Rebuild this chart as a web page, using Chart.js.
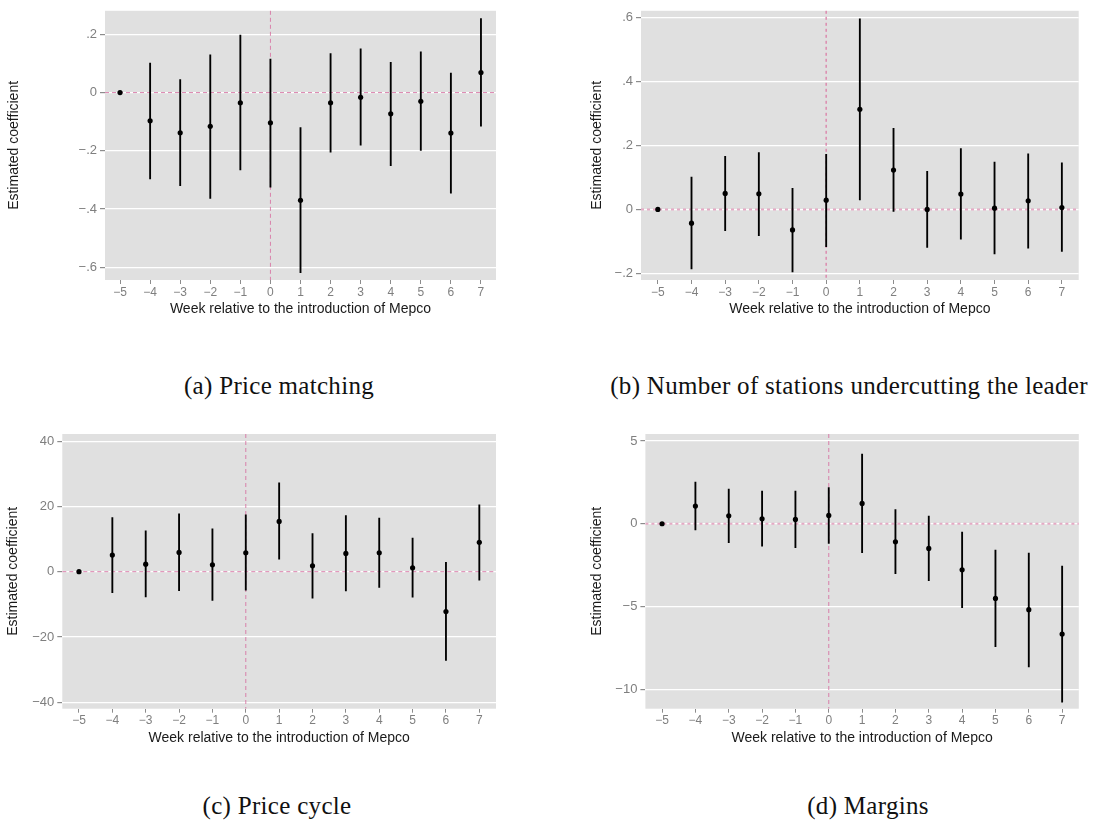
<!DOCTYPE html>
<html>
<head>
<meta charset="utf-8">
<script src="https://cdn.jsdelivr.net/npm/chart.js@4.4.1/dist/chart.umd.min.js"></script>
<style>
    html, body { margin: 0; padding: 0; background: #ffffff; }
    #page { position: relative; width: 1100px; height: 829px; overflow: hidden; }
    #page canvas { position: absolute; }
    .caption
    {
        position: absolute;
        font-family: "Liberation Serif", serif;
        font-size: 25px;
        line-height: 30px;
        letter-spacing: 0.3px;
        color: #111111;
        white-space: nowrap;
        transform: translateX(-50%);
    }
</style>
</head>
<body>
<div id="page">
    <canvas id="chartA" width="550" height="330" style="left:0px;top:0px"></canvas>
    <canvas id="chartB" width="550" height="330" style="left:550px;top:0px"></canvas>
    <canvas id="chartC" width="550" height="330" style="left:0px;top:420px"></canvas>
    <canvas id="chartD" width="550" height="330" style="left:550px;top:420px"></canvas>
    <div class="caption" style="left:279px;top:371px">(a) Price matching</div>
    <div class="caption" style="left:849px;top:371px">(b) Number of stations undercutting the leader</div>
    <div class="caption" style="left:277px;top:791px">(c) Price cycle</div>
    <div class="caption" style="left:868px;top:791px">(d) Margins</div>
</div>
<script>
// weeks relative to the introduction of Mepco
const weeks = ["−5", "−4", "−3", "−2", "−1", "0", "1", "2", "3", "4", "5", "6", "7"];

// (a) price matching
const coefA = [0, -0.097, -0.138, -0.116, -0.035, -0.104, -0.370, -0.035, -0.016, -0.073, -0.030, -0.139, 0.069];
const lowA  = [null, -0.297, -0.320, -0.364, -0.266, -0.325, -0.619, -0.205, -0.181, -0.251, -0.199, -0.346, -0.115];
const highA = [null, 0.101, 0.045, 0.130, 0.198, 0.115, -0.120, 0.134, 0.150, 0.104, 0.140, 0.067, 0.254];
const yTicksA  = [-0.6, -0.4, -0.2, 0, 0.2];
const yLabelsA = ["−.6", "−.4", "−.2", "0", ".2"];

// (b) number of stations undercutting the leader
const coefB = [0, -0.043, 0.050, 0.049, -0.064, 0.029, 0.313, 0.123, 0.000, 0.048, 0.004, 0.027, 0.006];
const lowB  = [null, -0.186, -0.066, -0.082, -0.195, -0.116, 0.030, -0.006, -0.119, -0.093, -0.139, -0.121, -0.131];
const highB = [null, 0.101, 0.166, 0.178, 0.066, 0.172, 0.596, 0.254, 0.119, 0.190, 0.148, 0.174, 0.146];
const yTicksB  = [-0.2, 0, 0.2, 0.4, 0.6];
const yLabelsB = ["−.2", "0", ".2", ".4", ".6"];

// (c) price cycle
const coefC = [0, 5.1, 2.3, 5.9, 2.1, 5.8, 15.4, 1.8, 5.6, 5.8, 1.2, -12.2, 9.0];
const lowC  = [null, -6.4, -7.7, -5.8, -8.8, -5.7, 3.8, -8.1, -5.9, -4.8, -7.8, -27.2, -2.6];
const highC = [null, 16.6, 12.5, 17.7, 13.1, 17.4, 27.2, 11.7, 17.2, 16.4, 10.3, 2.9, 20.5];
const yTicksC  = [-40, -20, 0, 20, 40];
const yLabelsC = ["−40", "−20", "0", "20", "40"];

// (d) margins
const coefD = [0, 1.07, 0.48, 0.30, 0.26, 0.50, 1.23, -1.09, -1.49, -2.78, -4.51, -5.19, -6.66];
const lowD  = [null, -0.38, -1.15, -1.35, -1.45, -1.19, -1.75, -3.02, -3.44, -5.07, -7.43, -8.64, -10.77];
const highD = [null, 2.52, 2.09, 1.97, 1.97, 2.19, 4.21, 0.85, 0.46, -0.50, -1.59, -1.77, -2.56];
const yTicksD  = [-10, -5, 0, 5];
const yLabelsD = ["−10", "−5", "0", "5"];

const xTitle = "Week relative to the introduction of Mepco";
const yTitle = "Estimated coefficient";

// grey panel background and the dashed reference lines at 0
const panelDecor =
{
    id: "panelDecor",
    beforeDraw: function(chart, args, opts)
    {
        const a = chart.chartArea;
        const ctx = chart.ctx;
        ctx.save();
        ctx.fillStyle = opts.background;
        ctx.fillRect(a.left, a.top, a.right - a.left, a.bottom - a.top);
        ctx.restore();
    },
    beforeDatasetsDraw: function(chart, args, opts)
    {
        const a = chart.chartArea;
        const ctx = chart.ctx;
        const y0 = chart.scales.y.getPixelForValue(0);
        const x0 = chart.scales.x.getPixelForValue(weeks.indexOf("0"));

        ctx.save();
        ctx.strokeStyle = opts.hLine.color;
        ctx.lineWidth = opts.hLine.width;
        ctx.setLineDash(opts.hLine.dash);
        ctx.beginPath();
        ctx.moveTo(a.left, y0);
        ctx.lineTo(a.right, y0);
        ctx.stroke();

        ctx.strokeStyle = opts.vLine.color;
        ctx.lineWidth = opts.vLine.width;
        ctx.setLineDash(opts.vLine.dash);
        ctx.beginPath();
        ctx.moveTo(x0, a.top);
        ctx.lineTo(x0, a.bottom);
        ctx.stroke();
        ctx.restore();
    }
};

function makePanel(canvasId, p)
{
    const ctx = document.getElementById(canvasId).getContext("2d");
    const ranges = p.low.map(function(l, i)
    {
        return l === null ? null : [l, p.high[i]];
    });

    return new Chart(ctx,
    {
        type: "bar",
        data:
        {
            labels: weeks,
            datasets: [
                {
                    type: "line",
                    data: p.coef,
                    showLine: false,
                    pointRadius: 2.6,
                    pointBackgroundColor: "#000000",
                    pointBorderWidth: 0,
                    order: 0
                },
                {
                    type: "bar",
                    data: ranges,
                    backgroundColor: "#000000",
                    borderWidth: 0,
                    barThickness: 1.2,
                    order: 1
                }
            ]
        },
        plugins: [panelDecor],
        options:
        {
            responsive: false,
            animation: false,
            devicePixelRatio: 1,
            layout: { padding: { left: 0, top: p.padTop, right: p.padRight, bottom: p.padBottom } },
            plugins:
            {
                legend: { display: false },
                tooltip: { enabled: false },
                panelDecor:
                {
                    background: "#e0e0e0",
                    hLine: p.hLine,
                    vLine: p.vLine
                }
            },
            scales:
            {
                x:
                {
                    offset: true,
                    grid: { offset: false, drawOnChartArea: false, drawTicks: true, tickLength: 4, tickColor: "#8c8c8c" },
                    border: { display: false },
                    ticks:
                    {
                        color: "#7f7f7f",
                        font: { family: "Liberation Sans", size: 12 },
                        padding: 1,
                        maxRotation: 0,
                        autoSkip: false
                    },
                    title:
                    {
                        display: true,
                        text: xTitle,
                        color: "#1a1a1a",
                        font: { family: "Liberation Sans", size: 14 },
                        padding: { top: 0, bottom: 0 }
                    },
                    afterFit: function(scale) { scale.height = 38; }
                },
                y:
                {
                    min: p.yMin,
                    max: p.yMax,
                    grid: { color: "#ffffff", lineWidth: 1.2, drawTicks: true, tickLength: 5, tickColor: "#8c8c8c" },
                    border: { display: false },
                    afterBuildTicks: function(scale)
                    {
                        scale.ticks = p.yTicks.map(function(v) { return { value: v }; });
                    },
                    ticks:
                    {
                        color: "#7f7f7f",
                        font: { family: "Liberation Sans", size: 13 },
                        padding: 3,
                        callback: function(value, index) { return p.yLabels[index]; }
                    },
                    title:
                    {
                        display: true,
                        text: yTitle,
                        color: "#1a1a1a",
                        font: { family: "Liberation Sans", size: 14 },
                        padding: { top: p.yTitlePad, bottom: 0 }
                    },
                    afterFit: function(scale) { scale.width = p.yAxisWidth; }
                }
            }
        }
    });
}

const thinDash = { color: "rgba(214, 110, 160, 0.85)", width: 1, dash: [4, 3] };
const dotDash = { color: "rgba(226, 160, 190, 0.9)", width: 2, dash: [3, 3] };

makePanel("chartA",
{
    coef: coefA, low: lowA, high: highA, yTicks: yTicksA, yLabels: yLabelsA,
    yMin: -0.644, yMax: 0.281,
    padTop: 5, padRight: 54, padBottom: 12, yAxisWidth: 105, yTitlePad: 5.6,
    hLine: thinDash, vLine: thinDash
});

makePanel("chartB",
{
    coef: coefB, low: lowB, high: highB, yTicks: yTicksB, yLabels: yLabelsB,
    yMin: -0.2205, yMax: 0.621,
    padTop: 5, padRight: 21.3, padBottom: 12, yAxisWidth: 91, yTitlePad: 38.3,
    hLine: dotDash, vLine: { color: "rgba(220, 130, 170, 0.9)", width: 1.5, dash: [3, 3] }
});

makePanel("chartC",
{
    coef: coefC, low: lowC, high: highC, yTicks: yTicksC, yLabels: yLabelsC,
    yMin: -42.0, yMax: 42.2,
    padTop: 14, padRight: 54, padBottom: 3.3, yAxisWidth: 62.3, yTitlePad: 4.9,
    hLine: thinDash, vLine: thinDash
});

makePanel("chartD",
{
    coef: coefD, low: lowD, high: highD, yTicks: yTicksD, yLabels: yLabelsD,
    yMin: -11.17, yMax: 5.42,
    padTop: 14, padRight: 21.2, padBottom: 3.3, yAxisWidth: 95.4, yTitlePad: 38.6,
    hLine: dotDash, vLine: thinDash
});
</script>
</body>
</html>
